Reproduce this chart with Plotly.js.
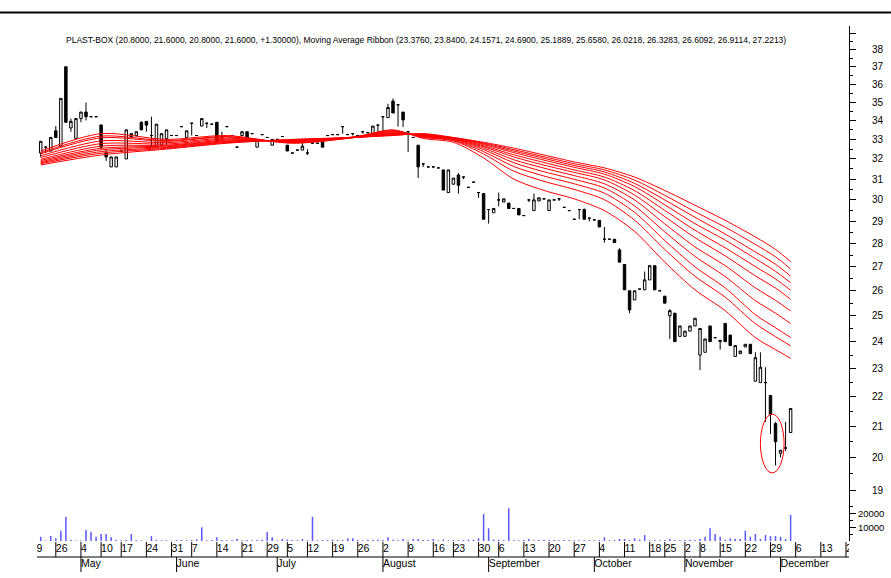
<!DOCTYPE html>
<html><head><meta charset="utf-8">
<script src="https://cdn.plot.ly/plotly-3.0.1.min.js"></script>
<style>html,body{margin:0;padding:0;background:#fff}#chart{width:891px;height:578px}</style>
</head><body><div id="chart"></div>
<script>
const dates = [
 '2010-04-21','2010-04-22','2010-04-23','2010-04-26','2010-04-27','2010-04-28','2010-04-29','2010-04-30',
 '2010-05-04','2010-05-05','2010-05-06','2010-05-07','2010-05-10','2010-05-11','2010-05-12','2010-05-13',
 '2010-05-17','2010-05-18','2010-05-19','2010-05-20','2010-05-21','2010-05-24','2010-05-25','2010-05-26','2010-05-27','2010-05-28','2010-05-31',
 '2010-06-01','2010-06-02','2010-06-04','2010-06-07','2010-06-08','2010-06-09','2010-06-10','2010-06-11',
 '2010-06-14','2010-06-15','2010-06-16','2010-06-17','2010-06-18','2010-06-21','2010-06-22','2010-06-23','2010-06-24','2010-06-25','2010-06-29','2010-06-30',
 '2010-07-01','2010-07-02','2010-07-05','2010-07-06','2010-07-07','2010-07-08','2010-07-12','2010-07-13','2010-07-14','2010-07-15','2010-07-16',
 '2010-07-19','2010-07-20','2010-07-21','2010-07-22','2010-07-23','2010-07-26','2010-07-27','2010-07-28','2010-07-29','2010-07-30',
 '2010-08-02','2010-08-03','2010-08-04','2010-08-05','2010-08-06','2010-08-09','2010-08-10','2010-08-11','2010-08-12','2010-08-13',
 '2010-08-16','2010-08-17','2010-08-18','2010-08-19','2010-08-23','2010-08-24','2010-08-25','2010-08-26','2010-08-27','2010-08-30','2010-08-31',
 '2010-09-01','2010-09-02','2010-09-06','2010-09-07','2010-09-08','2010-09-09','2010-09-10','2010-09-13','2010-09-14','2010-09-15','2010-09-16','2010-09-17',
 '2010-09-20','2010-09-21','2010-09-22','2010-09-23','2010-09-24','2010-09-27','2010-09-28','2010-09-29','2010-09-30',
 '2010-10-01','2010-10-04','2010-10-05','2010-10-06','2010-10-07','2010-10-08','2010-10-11','2010-10-12','2010-10-13','2010-10-14','2010-10-15',
 '2010-10-18','2010-10-19','2010-10-20','2010-10-25','2010-10-26','2010-10-27','2010-10-28',
 '2010-11-02','2010-11-03','2010-11-04','2010-11-08','2010-11-09','2010-11-10','2010-11-12','2010-11-15','2010-11-16','2010-11-17','2010-11-18','2010-11-19',
 '2010-11-22','2010-11-23','2010-11-24','2010-11-25','2010-11-26','2010-11-29','2010-11-30',
 '2010-12-01','2010-12-02','2010-12-03'
];
const openP = [32.3,32.6,32.4,33.45,32.65,37.0,33.6,33.05,34.1,34.45,
 34.2,34.2,33.76,32.3,31.6,31.6,32.4,32.0,33.15,33.2,
 33.9,33.95,33.2,32.6,32.7,33.05,33.2,33.2,33.67,33.1,
 33.85,33.2,33.7,33.85,33.8,33.9,33.1,33.67,33.2,32.6,
 33.2,33.4,33.3,32.6,33.25,33.1,32.7,33.0,33.15,32.7,
 32.3,32.45,32.45,32.3,32.8,32.8,32.9,33.2,33.25,33.25,
 33.67,33.25,33.3,33.2,33.4,33.35,33.2,33.75,34.2,34.15,
 35.05,34.85,34.45,33.4,33.1,32.7,31.75,31.6,31.6,31.55,
 31.45,30.35,30.75,31.2,31.1,30.6,30.85,30.35,30.3,29.55,
 29.4,30.0,29.9,29.85,29.6,29.6,29.27,30.0,29.5,29.95,
 30.05,29.5,30.0,30.05,29.65,29.5,29.1,29.55,29.55,29.15,
 29.07,29.05,28.2,28.2,28.2,27.73,27.1,26.0,25.63,26.07,
 26.04,26.45,27.05,26.0,25.78,25.0,25.1,24.2,24.2,24.4,
 24.6,23.5,23.6,24.6,24.15,24.0,24.7,24.25,23.45,23.55,
 23.8,23.9,22.55,22.5,22.5,22.05,21.1,20.13,20.3,20.8];
const highP = [32.9,32.6,33.1,33.7,35.2,37.0,34.1,34.1,34.45,34.97,
 34.2,34.2,33.76,32.5,32.1,32.1,32.4,33.5,33.3,33.4,
 33.95,33.95,34.2,33.8,33.3,33.5,33.2,33.2,33.67,33.45,
 33.85,33.2,34.1,33.85,33.8,33.9,33.4,33.67,33.2,32.6,
 33.4,33.4,33.3,33.0,33.25,33.1,33.0,33.0,33.15,32.7,
 32.3,32.45,32.9,32.5,32.8,32.8,32.9,33.2,33.25,33.25,
 33.67,33.25,33.3,33.2,33.4,33.35,33.7,33.75,34.2,34.9,
 35.2,34.85,34.45,33.4,33.1,32.7,31.75,31.6,31.6,31.55,
 31.45,31.45,31.05,31.3,31.1,30.6,30.85,30.35,30.3,29.55,
 29.6,30.35,30.05,29.85,29.6,29.6,29.27,30.0,30.3,30.1,
 30.05,30.0,30.0,30.05,29.65,29.5,29.1,29.55,29.6,29.15,
 29.07,29.05,28.75,28.2,28.2,27.8,27.1,26.0,26.0,26.07,
 26.8,27.05,27.05,26.0,25.78,25.25,25.1,24.6,24.4,24.6,
 24.9,24.5,24.1,24.6,24.15,24.05,24.7,24.25,23.85,23.65,
 23.9,23.9,23.6,23.6,23.05,22.05,21.15,20.23,21.15,21.6];
const lowP = [32.1,32.3,32.4,33.1,32.65,33.9,33.4,33.05,33.9,34.0,
 34.2,34.2,32.5,31.9,31.6,31.6,32.4,32.0,33.15,33.2,
 33.5,33.4,32.6,32.6,32.7,32.7,33.2,33.2,33.67,33.1,
 33.2,33.2,33.7,33.6,33.8,32.9,32.9,33.67,33.2,32.6,
 33.2,33.0,33.3,32.6,33.25,33.1,32.7,33.0,33.15,32.4,
 32.3,32.45,32.45,32.2,32.8,32.8,32.6,33.2,33.25,33.25,
 33.3,33.25,33.2,33.2,33.3,33.35,33.2,33.3,33.4,34.15,
 34.4,33.67,33.65,32.35,33.1,31.05,31.6,31.6,31.6,31.55,
 30.47,30.35,30.75,30.3,31.0,30.6,30.85,30.1,29.1,28.9,
 29.4,29.7,29.9,29.6,29.6,29.3,29.27,29.9,29.5,29.95,
 30.05,29.5,30.0,29.95,29.65,29.5,29.1,29.1,29.1,29.0,
 29.07,28.75,28.05,28.2,28.05,27.2,26.04,25.1,25.63,26.07,
 26.04,26.45,26.04,26.0,25.5,24.1,24.0,24.2,24.2,24.4,
 24.6,22.95,23.6,24.0,24.15,23.7,24.0,23.85,23.45,23.55,
 23.8,23.55,22.55,22.5,21.15,20.75,19.75,20.0,20.2,20.8];
const closeP = [32.9,32.6,33.1,33.1,35.2,33.9,33.95,34.1,34.45,34.2,
 34.2,34.2,32.6,32.1,32.1,32.1,32.4,33.5,33.3,33.4,
 33.5,33.75,33.2,33.8,33.3,33.5,33.2,33.2,33.67,33.45,
 33.85,33.2,34.1,33.85,33.8,32.9,33.1,33.67,33.2,32.6,
 33.4,33.0,33.3,33.0,33.25,33.1,33.0,33.0,33.15,32.4,
 32.3,32.45,32.65,32.3,32.8,32.8,32.6,33.2,33.25,33.25,
 33.67,33.25,33.3,33.2,33.4,33.35,33.7,33.75,34.2,34.7,
 34.4,34.85,34.03,33.4,33.1,31.6,31.75,31.6,31.6,31.55,
 30.47,31.45,31.05,30.7,31.1,30.6,30.85,30.35,29.1,29.55,
 29.6,30.0,30.05,29.6,29.6,29.3,29.27,30.0,30.0,30.1,
 30.05,30.0,30.0,30.05,29.65,29.5,29.1,29.55,29.1,29.15,
 29.07,28.75,28.2,28.2,28.05,27.2,26.04,25.23,26.0,26.07,
 26.45,27.05,26.04,26.0,25.5,25.2,24.0,24.6,24.4,24.6,
 24.9,24.5,24.1,24.0,24.15,24.05,24.0,23.85,23.85,23.65,
 23.9,23.55,23.4,23.05,22.5,21.4,20.5,20.23,20.3,21.6];
const volume = [3100,300,3600,2000,7500,17700,700,400,400,8000,
 6800,3100,5100,5100,2700,1000,500,700,5100,700,
 400,300,3600,700,500,500,300,700,700,500,
 700,1200,10000,500,700,2700,700,500,700,1500,
 500,700,500,700,1000,6600,2700,500,1500,1000,
 700,500,1500,500,17700,500,700,700,1000,700,
 700,2000,2000,700,500,1000,700,1000,700,2700,
 1000,500,1500,500,1500,1500,700,700,1500,500,
 1000,500,700,500,700,1000,1000,2000,19700,9300,
 1000,1000,500,23900,500,500,700,1500,500,700,
 1000,700,700,500,700,700,500,500,700,500,
 500,700,2700,500,700,1500,1500,700,2000,1000,
 4400,500,700,500,700,1500,700,500,700,1000,
 700,1500,3100,9300,5100,3100,1000,2000,1500,1500,
 7300,3100,5100,1500,4400,3600,3600,3100,1500,19000];

// Moving-average ribbon, read at sample dates (shortest average first)
const ribbonDates = ['2010-04-21','2010-05-10','2010-05-28','2010-06-16','2010-07-06','2010-07-23','2010-08-04','2010-08-12','2010-08-23','2010-08-31','2010-09-09','2010-09-17','2010-09-27','2010-10-05','2010-10-13','2010-10-25','2010-11-04','2010-11-16','2010-11-24','2010-11-30','2010-12-03'];
const ma1  = [32.40,33.30,33.00,33.20,32.80,33.10,33.50,33.05,32.85,32.05,31.00,30.45,30.05,29.50,28.55,27.20,26.04,25.20,24.15,23.70,23.376];
const ma2  = [32.32,33.17,32.94,33.15,32.82,33.12,33.46,33.10,32.92,32.25,31.39,30.89,30.50,30.01,29.06,27.75,26.60,25.74,24.69,24.19,23.840];
const ma3  = [32.26,33.08,32.90,33.12,32.84,33.08,33.43,33.13,32.95,32.37,31.62,31.15,30.77,30.32,29.42,28.14,27.00,26.12,25.04,24.53,24.157];
const ma4  = [32.16,32.92,32.83,33.06,32.87,33.11,33.39,33.16,32.98,32.47,31.81,31.36,30.99,30.57,29.72,28.53,27.45,26.59,25.60,25.10,24.690];
const ma5  = [32.07,32.78,32.76,33.01,32.89,33.09,33.35,33.18,33.00,32.55,31.96,31.54,31.17,30.77,30.00,28.89,27.86,27.05,26.12,25.61,25.189];
const ma6  = [31.98,32.65,32.70,32.96,32.92,33.12,33.31,33.20,33.02,32.62,32.10,31.69,31.33,30.96,30.23,29.22,28.27,27.47,26.62,26.11,25.658];
const ma7  = [31.92,32.54,32.66,32.92,32.94,33.10,33.29,33.22,33.04,32.67,32.21,31.82,31.45,31.10,30.44,29.51,28.60,27.82,27.01,26.49,26.022];
const ma8  = [31.86,32.46,32.62,32.89,32.95,33.11,33.26,33.24,33.06,32.73,32.32,31.94,31.58,31.24,30.64,29.77,28.90,28.16,27.35,26.81,26.328];
const ma9  = [31.81,32.37,32.58,32.86,32.97,33.09,33.24,33.26,33.07,32.77,32.40,32.03,31.67,31.35,30.79,30.00,29.19,28.43,27.64,27.11,26.609];
const ma10 = [31.76,32.29,32.54,32.83,32.98,33.10,33.22,33.28,33.09,32.81,32.47,32.11,31.76,31.45,30.95,30.22,29.45,28.74,27.97,27.43,26.911];
const ma11 = [31.70,32.20,32.50,32.80,33.00,33.10,33.20,33.30,33.10,32.85,32.55,32.20,31.85,31.55,31.10,30.45,29.75,29.05,28.30,27.75,27.221];

// trading days shown on the axis before and after the data
const preDates = ['2010-04-19','2010-04-20'];
const postDates = ['2010-12-06','2010-12-07','2010-12-08','2010-12-09','2010-12-10','2010-12-13','2010-12-14','2010-12-15','2010-12-16','2010-12-17','2010-12-20'];
const monthNames = ['January','February','March','April','May','June','July','August','September','October','November','December'];
const priceTicks = [19,20,21,22,23,24,25,26,27,28,29,30,31,32,33,34,35,36,37,38,39];
const volTicks = [10000,20000];
const titleText = 'PLAST-BOX (20.8000, 21.6000, 20.8000, 21.6000, +1.30000), Moving Average Ribbon (23.3760, 23.8400, 24.1571, 24.6900, 25.1889, 25.6580, 26.0218, 26.3283, 26.6092, 26.9114, 27.2213)';
// highlighted sell-off: trading-day span and price span of the red ellipse
const highlightFrom = 143.0, highlightTo = 147.7, highlightLow = 19.52, highlightHigh = 21.41;

const FONT = '"Liberation Sans", Arial, sans-serif';
const idx = dates.map((d, i) => i);
const posOf = d => dates.indexOf(d);

// axis calendar
const allDates = preDates.concat(dates, postDates);
const allPos = allDates.map((d, i) => i - preDates.length);
function mondayKey(s) {
  const t = new Date(s + 'T00:00:00Z');
  const wd = (t.getUTCDay() + 6) % 7;
  return Math.floor(t.getTime() / 86400000) - wd;
}
const weekPos = [], weekTxt = [], monthPos = [], monthTxt = [];
allDates.forEach((d, i) => {
  const prev = allDates[i - 1];
  if (!prev || mondayKey(prev) !== mondayKey(d)) { weekPos.push(allPos[i]); weekTxt.push(String(+d.slice(8, 10))); }
  if (prev && prev.slice(5, 7) !== d.slice(5, 7)) { monthPos.push(allPos[i]); monthTxt.push(monthNames[+d.slice(5, 7) - 1]); }
});

const traces = [];
traces.push({
  type: 'candlestick', x: idx, open: openP, high: highP, low: lowP, close: closeP,
  xaxis: 'x', yaxis: 'y',
  increasing: {line: {color: '#000', width: 1}, fillcolor: '#ffffff'},
  decreasing: {line: {color: '#000', width: 1}, fillcolor: '#000000'},
  whiskerwidth: 0, hoverinfo: 'skip', showlegend: false
});
const rx = ribbonDates.map(posOf);
[ma1, ma2, ma3, ma4, ma5, ma6, ma7, ma8, ma9, ma10, ma11].forEach(arr => {
  traces.push({type: 'scatter', mode: 'lines', x: rx, y: arr, xaxis: 'x', yaxis: 'y',
    line: {color: '#ff0000', width: 1, shape: 'spline', smoothing: 0.8}, hoverinfo: 'skip', showlegend: false});
});
traces.push({type: 'bar', x: idx, y: volume, xaxis: 'x', yaxis: 'y2', width: 0.3,
  marker: {color: '#5a5aff', line: {width: 0}}, hoverinfo: 'skip', showlegend: false});
traces.push({type: 'scatter', mode: 'text', x: weekPos, y: weekPos.map(() => 26), text: weekTxt,
  textposition: 'middle right', textfont: {family: FONT, size: 10.5, color: '#000'},
  xaxis: 'x', yaxis: 'y3', cliponaxis: true, hoverinfo: 'skip', showlegend: false});
traces.push({type: 'scatter', mode: 'text', x: monthPos, y: monthPos.map(() => 11), text: monthTxt,
  textposition: 'middle right', textfont: {family: FONT, size: 10.5, color: '#000'},
  xaxis: 'x', yaxis: 'y3', cliponaxis: true, hoverinfo: 'skip', showlegend: false});

const shapes = [];
weekPos.forEach(p => shapes.push({type: 'line', xref: 'x', yref: 'y3', x0: p, x1: p, y0: 18, y1: 33, line: {color: '#000', width: 1}}));
monthPos.forEach(p => shapes.push({type: 'line', xref: 'x', yref: 'y3', x0: p, x1: p, y0: 3, y1: 18, line: {color: '#000', width: 1}}));
shapes.push({type: 'line', xref: 'paper', yref: 'y3', x0: 0, x1: 1, y0: 18, y1: 18, line: {color: '#000', width: 1}});
shapes.push({type: 'line', xref: 'paper', yref: 'paper', x0: -0.0456, x1: 1.0517, y0: 1.0027, y1: 1.0027, line: {color: '#000', width: 2}});
shapes.push({type: 'circle', xref: 'x', yref: 'y', x0: highlightFrom, x1: highlightTo, y0: highlightLow, y1: highlightHigh, line: {color: '#ff0000', width: 1}});

const priceMinor = [];
for (let v = 19.5; v < 39.5; v += 1) priceMinor.push(v);

const layout = {
  width: 891, height: 578,
  margin: {l: 37, r: 42, t: 14, b: 3, pad: 0},
  paper_bgcolor: '#fff', plot_bgcolor: 'rgba(0,0,0,0)',
  showlegend: false, hovermode: false, dragmode: false,
  font: {family: FONT, size: 10, color: '#000'},
  xaxis: {range: [-0.735, 160.6], showticklabels: false, ticks: '', showline: false, showgrid: false, zeroline: false, anchor: 'y3', rangeslider: {visible: false}},
  yaxis: {domain: [0.1426, 0.9786], type: 'log', range: [Math.log10(18.851), Math.log10(39.45)], side: 'right', anchor: 'x',
    showline: true, linecolor: '#000', linewidth: 1, showgrid: false, zeroline: false,
    tickmode: 'array', tickvals: priceTicks, ticktext: priceTicks.map(v => v === 39 ? '' : String(v)),
    ticks: 'outside', ticklen: 6, tickwidth: 1, tickcolor: '#000', ticklabelstandoff: 14,
    tickfont: {family: FONT, size: 10, color: '#000'},
    minor: {tickmode: 'array', tickvals: priceMinor, ticks: 'outside', ticklen: 3, tickcolor: '#000', tickwidth: 1, showgrid: false}},
  yaxis2: {domain: [0.0606, 0.1426], range: [0, 33580], side: 'right', anchor: 'x',
    showline: true, linecolor: '#000', linewidth: 1, showgrid: false, zeroline: false,
    tickmode: 'array', tickvals: volTicks, ticktext: volTicks.map(String),
    ticks: 'outside', ticklen: 6, tickwidth: 1, tickcolor: '#000', ticklabelstandoff: 0,
    tickfont: {family: FONT, size: 9.5, color: '#000'},
    minor: {tickmode: 'array', tickvals: [5000, 15000, 25000], ticks: 'outside', ticklen: 3, tickcolor: '#000', tickwidth: 1, showgrid: false}},
  yaxis3: {domain: [0, 0.0606], range: [0, 34], visible: false, anchor: 'x'},
  shapes: shapes,
  annotations: [{xref: 'paper', yref: 'paper', x: 0.4791, y: 0.9537, xanchor: 'center', yanchor: 'middle', showarrow: false,
    text: titleText, font: {family: FONT, size: 8.5, color: '#000'}}]
};
Plotly.newPlot('chart', traces, layout, {staticPlot: true, displayModeBar: false});
</script>
</body></html>
